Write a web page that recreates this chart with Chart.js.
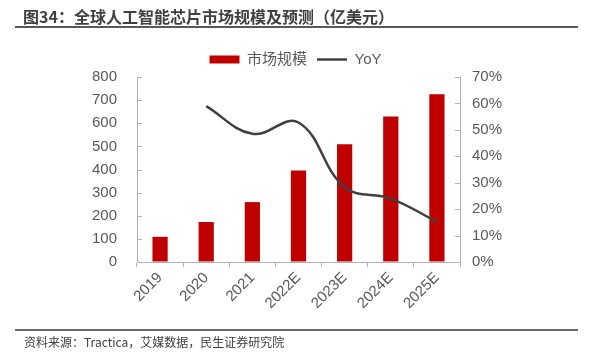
<!DOCTYPE html>
<html><head><meta charset="utf-8">
<script src="https://cdn.jsdelivr.net/npm/chart.js@4/dist/chart.umd.min.js"></script>
<style>
html,body{margin:0;padding:0;background:#fff;}
#wrap{position:relative;width:591px;height:355px;overflow:hidden;}
#c{position:absolute;left:0;top:0;}
#title{position:absolute;left:23px;top:4px;font:bold 16px "Noto Sans CJK SC",sans-serif;color:#3f3f3f;white-space:nowrap;}
#tline{position:absolute;left:15px;top:26px;width:563px;height:2px;background:#595959;}
#sline{position:absolute;left:15px;top:329px;width:563px;height:2px;background:#6a6a6a;}
#src{position:absolute;left:24px;top:333px;font:12px "Noto Sans CJK SC",sans-serif;color:#404040;white-space:nowrap;}
</style></head>
<body><div id="wrap">
<canvas id="c" width="591" height="355"></canvas>
<div id="title">图34：全球人工智能芯片市场规模及预测（亿美元）</div>
<div id="tline"></div>
<div id="sline"></div>
<div id="src">资料来源：Tractica，艾媒数据，民生证券研究院</div>
</div>
<script>
const categories = ["2019","2020","2021","2022E","2023E","2024E","2025E"];
const marketSize = [109, 173, 259, 396, 509, 629, 725];
const yoy = [null, 59, 48.5, 52.8, 28.3, 24, 15.2];
const leftTicksMax = 800;
const rightTicksMax = 70;

const FONT = '"Liberation Sans","Noto Sans CJK SC",sans-serif';
const TICKC = '#595959';
const AXISC = '#b3b3b3';

const innerTicks = {
  id: 'innerTicks',
  afterDatasetsDraw(chart) {
    const ctx = chart.ctx;
    ctx.save();
    ctx.strokeStyle = AXISC;
    ctx.lineWidth = 1;
    const y = chart.scales.y, y1 = chart.scales.y1;
    y.ticks.forEach(t => {
      const p = Math.round(y.getPixelForValue(t.value)) + 0.5;
      ctx.beginPath(); ctx.moveTo(y.right, p); ctx.lineTo(y.right + 5, p); ctx.stroke();
    });
    y1.ticks.forEach(t => {
      const p = Math.round(y1.getPixelForValue(t.value)) + 0.5;
      ctx.beginPath(); ctx.moveTo(y1.left - 5, p); ctx.lineTo(y1.left, p); ctx.stroke();
    });
    ctx.restore();
  }
};

new Chart(document.getElementById('c'), {
  data: {
    labels: categories,
    datasets: [
      { type: 'bar', label: '市场规模', data: marketSize, backgroundColor: '#C00000', yAxisID: 'y', order: 1,
        categoryPercentage: 1, barPercentage: 0.33 },
      { type: 'line', label: 'YoY', data: yoy, borderColor: '#404040', backgroundColor: '#404040', borderWidth: 2.5,
        pointRadius: 0, tension: 0.4, yAxisID: 'y1', order: 0 }
    ]
  },
  plugins: [innerTicks],
  options: {
    responsive: false, animation: false, devicePixelRatio: 1,
    layout: { padding: { top: 42, left: 0, right: 0, bottom: 0 } },
    plugins: {
      tooltip: { enabled: false },
      legend: {
        position: 'top',
        labels: {
          usePointStyle: true, pointStyleWidth: 30, boxHeight: 8, padding: 10,
          color: TICKC, font: { family: FONT, size: 15 },
          sort: (a, b) => a.datasetIndex - b.datasetIndex,
          generateLabels(chart) {
            const items = Chart.defaults.plugins.legend.labels.generateLabels(chart);
            items.forEach(it => {
              if (it.datasetIndex === 0) { it.pointStyle = 'rect'; it.lineWidth = 0; it.strokeStyle = '#C00000'; }
              else { it.pointStyle = 'line'; it.lineWidth = 2.5; it.strokeStyle = '#404040'; }
            });
            return items;
          }
        }
      }
    },
    scales: {
      x: {
        offset: true,
        grid: { drawOnChartArea: false, drawTicks: true, tickLength: 5, color: AXISC, offset: true },
        border: { color: AXISC, width: 1 },
        ticks: { color: TICKC, font: { family: FONT, size: 15 }, minRotation: 45, maxRotation: 45, padding: 2, autoSkip: false },
        afterFit(s) { s.height = 93; }
      },
      y: {
        position: 'left', min: 0, max: leftTicksMax,
        grid: { drawOnChartArea: false, drawTicks: false },
        border: { color: AXISC, width: 1 },
        ticks: { stepSize: 100, color: TICKC, font: { family: FONT, size: 15 }, padding: 20 },
        afterFit(s) { s.width = 137; }
      },
      y1: {
        position: 'right', min: 0, max: rightTicksMax,
        grid: { drawOnChartArea: false, drawTicks: false },
        border: { color: AXISC, width: 1 },
        ticks: { stepSize: 10, color: TICKC, font: { family: FONT, size: 15 }, padding: 12, callback: v => v + '%' },
        afterFit(s) { s.width = 131; }
      }
    }
  }
});
</script>
</body></html>
